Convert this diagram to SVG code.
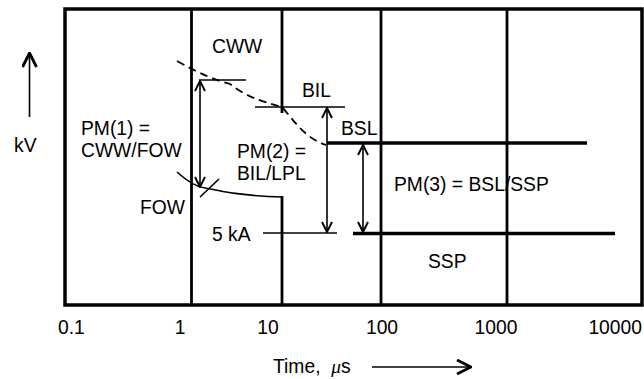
<svg xmlns="http://www.w3.org/2000/svg" width="644" height="379" viewBox="0 0 644 379">
<defs>
<style>
text{font-family:"Liberation Sans",Arial,sans-serif;font-size:19.3px;fill:#000}
.frame{fill:none;stroke:#000;stroke-width:3.5}
.grid{stroke:#000;stroke-width:2.8;fill:none}
.thick{stroke:#000;stroke-width:3.5;fill:none}
.thin{stroke:#000;stroke-width:1.6;fill:none}
.dash{stroke:#000;stroke-width:1.8;fill:none;stroke-dasharray:8,5}
</style>
<marker id="v" viewBox="0 0 12 12" refX="11" refY="6" markerWidth="12" markerHeight="12" markerUnits="userSpaceOnUse" orient="auto-start-reverse">
<path d="M1,1 L11,6 L1,11" fill="none" stroke="#000" stroke-width="1.9"/>
</marker>
<marker id="vb" viewBox="0 0 16 16" refX="15" refY="8" markerWidth="16" markerHeight="16" markerUnits="userSpaceOnUse" orient="auto-start-reverse">
<path d="M1,1 L15,8 L1,15" fill="none" stroke="#000" stroke-width="2.8"/>
</marker>
</defs>
<rect width="644" height="379" fill="#fff"/>
<g id="frame">
<rect class="frame" x="65" y="9" width="577" height="296"/>
<line class="grid" x1="191.5" y1="9" x2="191.5" y2="305"/>
<line class="grid" x1="282" y1="9" x2="282" y2="113"/>
<line class="grid" x1="282" y1="196" x2="282" y2="305"/>
<line class="grid" x1="381" y1="9" x2="381" y2="305"/>
<line class="grid" x1="507" y1="9" x2="507" y2="305"/>
</g>
<g id="curves">
<path class="dash" d="M177,61 C200,74 215,80 230,84 C250,99 262,101 282,107 C295,122 305,138 326,145"/>
<path class="thin" d="M177,172 C188,182 196,187 205,188 C225,192 245,196 283,197"/>
<line class="thin" x1="200" y1="197" x2="219" y2="179"/>
</g>
<g id="levels">
<line class="thin" x1="199" y1="80" x2="246" y2="80"/>
<line class="thin" x1="255" y1="107" x2="345" y2="107"/>
<line class="thick" x1="327" y1="143" x2="587" y2="143"/>
<line class="thin" x1="263" y1="233" x2="337" y2="233"/>
<line class="thick" x1="353" y1="233.5" x2="615" y2="233.5"/>
</g>
<g id="connectors">
<line class="thin" x1="200" y1="81" x2="200" y2="187" marker-start="url(#v)" marker-end="url(#v)"/>
<line class="thin" x1="327" y1="108" x2="327" y2="232" marker-start="url(#v)" marker-end="url(#v)"/>
<line class="thin" x1="363" y1="145" x2="363" y2="232" marker-start="url(#v)" marker-end="url(#v)"/>
<line class="thin" x1="29.5" y1="117" x2="29.5" y2="53" stroke-width="2.2" marker-end="url(#vb)"/>
<line class="thin" x1="372" y1="367" x2="471" y2="367" stroke-width="2.2" marker-end="url(#vb)"/>
</g>
<g id="labels">
<text x="212" y="53">CWW</text>
<text x="302" y="97">BIL</text>
<text x="341" y="135">BSL</text>
<text x="81" y="135">PM(1) =</text>
<text x="81" y="157">CWW/FOW</text>
<text x="237" y="158">PM(2) =</text>
<text x="237" y="180">BIL/LPL</text>
<text x="140" y="214">FOW</text>
<text x="212" y="241">5 kA</text>
<text x="394" y="191">PM(3) = BSL/SSP</text>
<text x="428" y="268">SSP</text>
<text x="14" y="152">kV</text>
<text x="58" y="334">0.1</text>
<text x="180" y="334" text-anchor="middle">1</text>
<text x="268" y="334" text-anchor="middle">10</text>
<text x="382" y="334" text-anchor="middle">100</text>
<text x="496" y="334" text-anchor="middle">1000</text>
<text x="642" y="334" text-anchor="end">10000</text>
<text x="273" y="373" xml:space="preserve">Time,  <tspan font-style="italic" font-family="'Liberation Serif',serif">μ</tspan>s</text>
</g>
</svg>
